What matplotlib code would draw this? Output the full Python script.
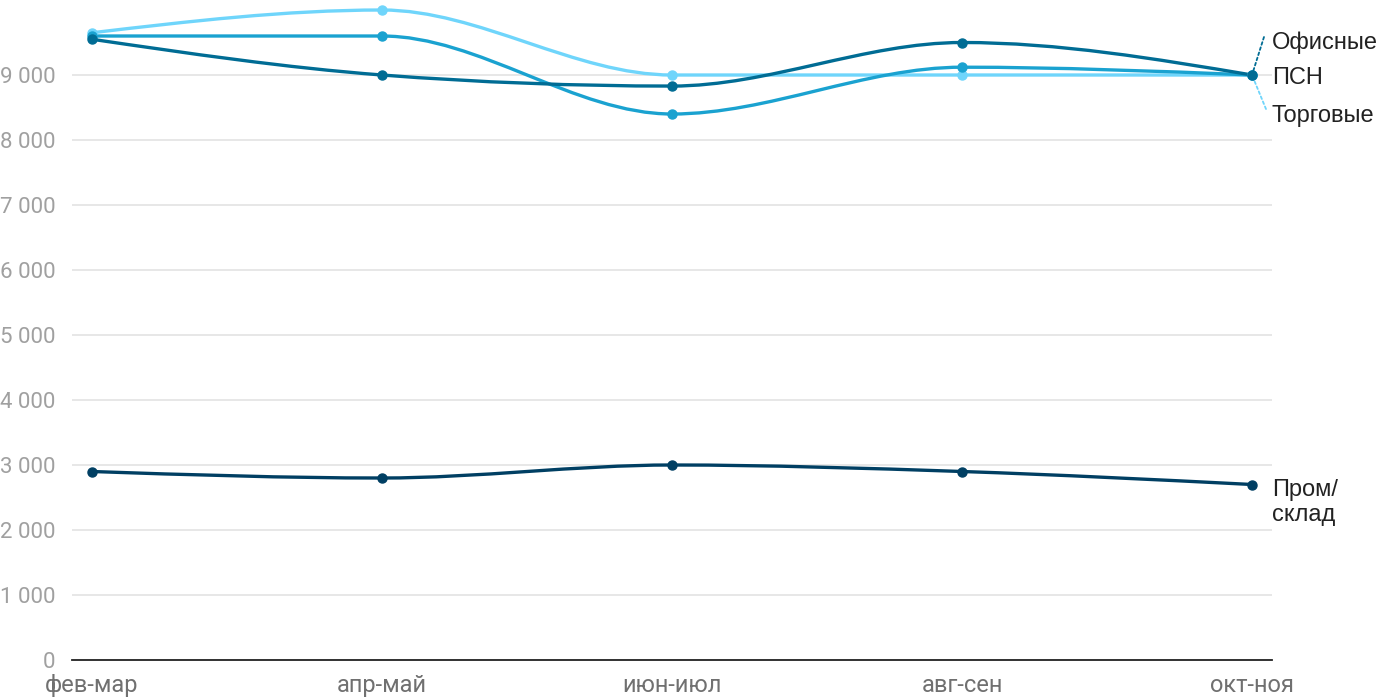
import numpy as np
import matplotlib

matplotlib.use("Agg")
import matplotlib.pyplot as plt  # noqa: E402
from matplotlib.path import Path  # noqa: E402
from matplotlib.patches import PathPatch  # noqa: E402

# --- data ---
periods = ["фев-мар", "апр-май", "июн-июл", "авг-сен", "окт-ноя"]
torg = [9650, 10000, 9000, 9000, 9000]
psn = [9600, 9600, 8400, 9120, 9000]
ofis = [9550, 9000, 8830, 9500, 9000]
prom = [2900, 2800, 3000, 2900, 2700]

series = [
    # name, values, colour, label offset (px), leader end offset (px) or None
    ("Торговые", torg, "#6fd5fb", (20, -41), (14, -34)),
    ("ПСН", psn, "#1aa2d0", (20, -3), None),
    ("Офисные", ofis, "#006c94", (20, 32), (12, 38)),
    ("Пром/\nсклад", prom, "#003f63", (20, -18), None),
]


def monotone_path(xs, ys):
    """Bezier path like d3.curveMonotoneX through the given points."""
    xs = np.asarray(xs, float)
    ys = np.asarray(ys, float)
    n = len(xs)
    h = np.diff(xs)
    s = np.diff(ys) / h
    t = np.zeros(n)
    for i in range(1, n - 1):
        p = (s[i - 1] * h[i] + s[i] * h[i - 1]) / (h[i - 1] + h[i])
        t[i] = (np.sign(s[i - 1]) + np.sign(s[i])) * min(abs(s[i - 1]), abs(s[i]), 0.5 * abs(p))
    t[0] = (3 * s[0] - t[1]) / 2
    t[-1] = (3 * s[-1] - t[-2]) / 2
    verts = [(xs[0], ys[0])]
    codes = [Path.MOVETO]
    for i in range(n - 1):
        dx = (xs[i + 1] - xs[i]) / 3
        verts += [(xs[i] + dx, ys[i] + dx * t[i]),
                  (xs[i + 1] - dx, ys[i + 1] - dx * t[i + 1]),
                  (xs[i + 1], ys[i + 1])]
        codes += [Path.CURVE4] * 3
    return Path(verts, codes)


plt.rcParams["font.family"] = ["Roboto", "DejaVu Sans"]

fig = plt.figure(figsize=(14, 7), dpi=100)
ax = fig.add_axes([72 / 1400, 40 / 700, 1200 / 1400, 660 / 700])

x = np.arange(len(periods))
for name, vals, color, off, leader in series:
    ax.add_patch(PathPatch(monotone_path(x, vals), fill=False, edgecolor=color,
                           lw=2.4, capstyle="round", clip_on=False, zorder=2))
    ax.plot(x, vals, "o", color=color, markersize=6.5, clip_on=False, zorder=3)
    ax.annotate(
        name, xy=(x[-1], vals[-1]), xytext=off, textcoords="offset pixels",
        ha="left", va="center", fontsize=17, color="#222222",
        family=["Liberation Sans", "DejaVu Sans"], linespacing=1.2,
    )
    if leader is not None:
        ax.annotate(
            "", xy=(x[-1], vals[-1]), xytext=leader, textcoords="offset pixels",
            arrowprops=dict(arrowstyle="-", color=color, lw=1.3, linestyle=(0, (1.5, 1.5)),
                            shrinkA=0, shrinkB=3),
        )

ax.set_xlim(-0.069, len(periods) - 1 + 0.069)
ax.set_ylim(0, 10154)
ax.set_yticks(np.arange(0, 10000, 1000))
ax.set_yticklabels([f"{v:,}".replace(",", " ") for v in range(0, 10000, 1000)])
ax.set_xticks(x)
ax.set_xticklabels(periods)
ax.grid(axis="y", color="#e3e3e3", lw=1.2)
ax.set_axisbelow(True)
for side in ["top", "right", "left"]:
    ax.spines[side].set_visible(False)
ax.spines["bottom"].set_color("#222222")
ax.spines["bottom"].set_linewidth(1.3)
ax.tick_params(axis="y", length=0, pad=12, labelsize=16, labelcolor="#a0a0a0")
ax.tick_params(axis="x", length=0, pad=10, labelsize=17, labelcolor="#707070")

fig.savefig("out.png", dpi=100)
